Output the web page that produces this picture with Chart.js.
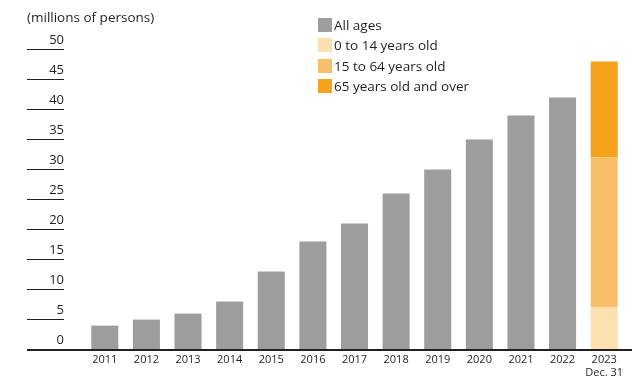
<!DOCTYPE html>
<html>
<head>
<meta charset="utf-8">
<script src="https://cdn.jsdelivr.net/npm/chart.js@4"></script>
<style>
  html, body { margin: 0; padding: 0; background: #fff; }
  #wrap { position: relative; width: 632px; height: 380px; font-family: 'Open Sans', sans-serif; color: #231f20; }
  #unit { position: absolute; left: 27px; top: 10px; font-size: 13.5px; line-height: 15px; }
  #legend { position: absolute; left: 318px; top: 18px; }
  .row { display: flex; align-items: center; height: 14px; margin-bottom: 6.4px; font-size: 13.5px; white-space: nowrap; }
  .sw { width: 14px; height: 14px; margin-right: 2px; flex: none; }
</style>
</head>
<body>
<div id="wrap">
  <canvas id="chart" width="632" height="380"></canvas>
  <div id="unit">(millions of persons)</div>
  <div id="legend"></div>
</div>
<script>
// data
const years = ['2011', '2012', '2013', '2014', '2015', '2016', '2017', '2018', '2019', '2020', '2021', '2022', ['2023', 'Dec. 31']];
const allAges   = [3.9, 4.9, 5.9, 7.9, 12.9, 17.9, 20.9, 25.9, 29.9, 34.9, 38.9, 41.9, null];
const age0to14  = [null, null, null, null, null, null, null, null, null, null, null, null, 6.9];
const age15to64 = [null, null, null, null, null, null, null, null, null, null, null, null, 25.0];
const age65over = [null, null, null, null, null, null, null, null, null, null, null, null, 16.0];
const yTicks = [0, 5, 10, 15, 20, 25, 30, 35, 40, 45, 50];

const textColor = '#231f20';

// short tick lines with the value sitting on top, plus the long baseline
const axisMarks = {
    id: 'axisMarks',
    afterDraw(chart) {
        const ctx = chart.ctx;
        const y = chart.scales.y;
        ctx.save();
        ctx.strokeStyle = textColor;
        ctx.fillStyle = textColor;
        ctx.font = "13px 'Open Sans'";
        ctx.textAlign = 'right';
        ctx.textBaseline = 'alphabetic';
        ctx.lineWidth = 1;
        yTicks.forEach(v => {
            const py = Math.round(y.getPixelForValue(v)) + 0.5;
            if (v > 0) {
                ctx.beginPath();
                ctx.moveTo(27, py);
                ctx.lineTo(64, py);
                ctx.stroke();
            }
            ctx.fillText(String(v), 64, py - 6);
        });
        const p0 = y.getPixelForValue(0) + 1;
        ctx.lineWidth = 2;
        ctx.beginPath();
        ctx.moveTo(27, p0);
        ctx.lineTo(632, p0);
        ctx.stroke();
        ctx.restore();
    }
};

const chart = new Chart(document.getElementById('chart'), {
    type: 'bar',
    data: {
        labels: years,
        datasets: [
            { label: 'All ages', data: allAges, backgroundColor: '#9d9d9d' },
            { label: '0 to 14 years old', data: age0to14, backgroundColor: '#fce0b0' },
            { label: '15 to 64 years old', data: age15to64, backgroundColor: '#f8bf6a' },
            { label: '65 years old and over', data: age65over, backgroundColor: '#f5a31d' }
        ]
    },
    options: {
        responsive: false,
        animation: false,
        devicePixelRatio: 1,
        layout: { padding: { top: 49, left: 84, right: 7, bottom: 0 } },
        datasets: { bar: { barPercentage: 0.65, categoryPercentage: 1.0, borderWidth: 0 } },
        plugins: {
            legend: { display: false },
            tooltip: { enabled: false }
        },
        scales: {
            x: {
                stacked: true,
                grid: { display: false, drawTicks: false },
                border: { display: false },
                ticks: {
                    color: textColor,
                    font: { family: 'Open Sans', size: 11 },
                    padding: 4,
                    maxRotation: 0,
                    autoSkip: false
                },
                afterFit: s => { s.height = 31; }
            },
            y: {
                stacked: true,
                display: false,
                min: 0,
                max: 50,
                ticks: { stepSize: 5 }
            }
        }
    },
    plugins: [axisMarks]
});

// legend built from the datasets
const legend = document.getElementById('legend');
chart.data.datasets.forEach(ds => {
    const row = document.createElement('div');
    row.className = 'row';
    row.innerHTML = `<span class="sw" style="background:${ds.backgroundColor}"></span><span>${ds.label}</span>`;
    legend.appendChild(row);
});
</script>
</body>
</html>
